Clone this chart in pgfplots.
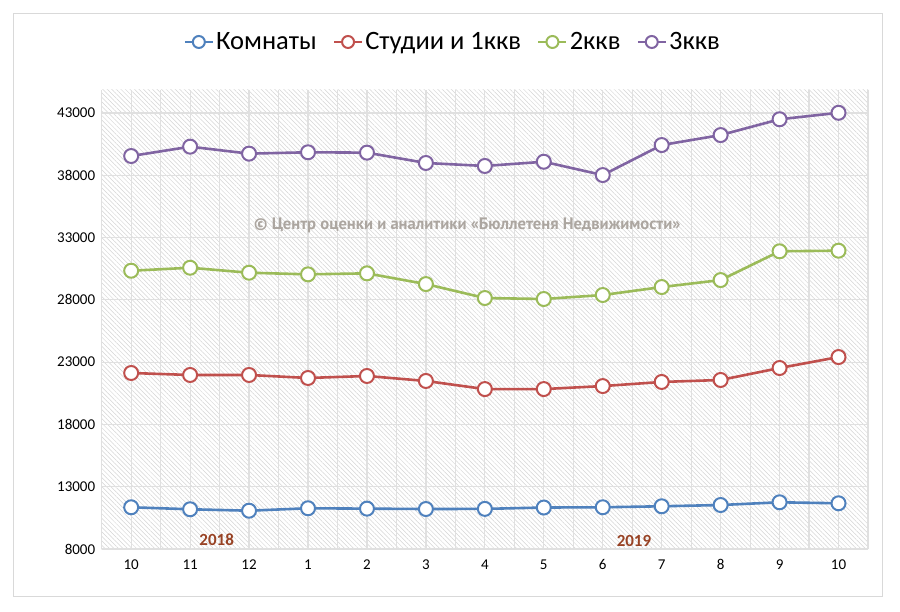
\documentclass[border=0pt]{standalone}
\usepackage{fontspec}
\setmainfont{Carlito}
\newfontfamily\wmfont{PT Sans}
\usepackage{pgfplots}
\pgfplotsset{compat=1.18}
\usetikzlibrary{patterns.meta}
\definecolor{cblue}{RGB}{79,129,189}
\definecolor{cred}{RGB}{192,80,77}
\definecolor{cgreen}{RGB}{155,187,89}
\definecolor{cpurple}{RGB}{128,100,162}
\definecolor{gridgray}{RGB}{224,224,224}
\definecolor{hatchgray}{RGB}{212,212,212}
\definecolor{bordergray}{RGB}{217,217,217}
\definecolor{wmgray}{RGB}{172,166,160}
\definecolor{yearbrown}{RGB}{152,66,36}
\begin{document}
\begin{tikzpicture}
\path[use as bounding box] (-101.7pt,-62pt) rectangle (798.3pt,549pt);
\draw[color=bordergray, line width=1pt] (-87.7pt,-47pt) rectangle (780.3pt,535pt);
\begin{axis}[
  at={(0pt,0pt)}, anchor=south west,
  scale only axis, width=766.3pt, height=459pt,
  xmin=-0.5, xmax=12.5, ymin=8000, ymax=44850,
  xtick={0,...,12},
  xticklabels={10,11,12,1,2,3,4,5,6,7,8,9,10},
  minor xtick={-0.5,0.5,...,12.5},
  ytick={8000,13000,...,43000},
  scaled y ticks=false,
  xmajorgrids, xminorgrids, ymajorgrids,
  grid style={draw=gridgray, line width=1.2pt},
  minor grid style={draw=gridgray, line width=1.2pt},
  axis line style={draw=none},
  major tick style={draw=none}, minor tick style={draw=none},
  ticklabel style={font=\fontsize{15}{17}\selectfont},
  xticklabel style={yshift=-7pt},
  yticklabel style={xshift=-3pt},
  /pgf/number format/.cd, 1000 sep={}, assume math mode=true, /pgfplots/.cd,
  axis background/.style={pattern={Lines[angle=-45,distance=3.2pt,line width=0.5pt]}, pattern color=hatchgray},
  legend style={at={(0.458,1.1046)}, anchor=center, draw=none, fill=none,
    font=\fontsize{26.5}{30}\selectfont, legend columns=4,
    /tikz/every even column/.append style={column sep=14pt}},
  legend image code/.code={\draw[mark repeat=2,mark phase=2,mark size=6pt] plot coordinates {(0pt,0pt) (14pt,0pt) (28pt,0pt)};},
  every axis plot/.append style={line width=2.6pt, mark=*, mark size=7pt, mark options={fill=white, line width=2pt}},
]
\addplot[color=cblue] coordinates {(0,11350) (1,11190) (2,11075) (3,11270) (4,11240) (5,11210) (6,11220) (7,11330) (8,11350) (9,11430) (10,11530) (11,11750) (12,11670)};
\addlegendentry{Комнаты}
\addplot[color=cred] coordinates {(0,22130) (1,21970) (2,21970) (3,21730) (4,21890) (5,21490) (6,20840) (7,20840) (8,21080) (9,21410) (10,21570) (11,22530) (12,23410)};
\addlegendentry{Студии и 1ккв}
\addplot[color=cgreen] coordinates {(0,30340) (1,30580) (2,30180) (3,30050) (4,30130) (5,29270) (6,28150) (7,28070) (8,28390) (9,29030) (10,29590) (11,31900) (12,31950)};
\addlegendentry{2ккв}
\addplot[color=cpurple] coordinates {(0,39550) (1,40300) (2,39740) (3,39850) (4,39820) (5,38990) (6,38750) (7,39090) (8,38020) (9,40430) (10,41230) (11,42500) (12,43020)};
\addlegendentry{3ккв}
\node[font=\wmfont\bfseries\fontsize{16.6}{18}\selectfont, text=wmgray] at (axis cs:5.7,34010) {© Центр оценки и аналитики «Бюллетеня Недвижимости»};
\node[font=\bfseries\fontsize{17}{20}\selectfont, text=yearbrown] at (axis cs:1.45,8720) {2018};
\node[font=\bfseries\fontsize{17}{20}\selectfont, text=yearbrown] at (axis cs:8.53,8640) {2019};
\end{axis}
\end{tikzpicture}
\end{document}
